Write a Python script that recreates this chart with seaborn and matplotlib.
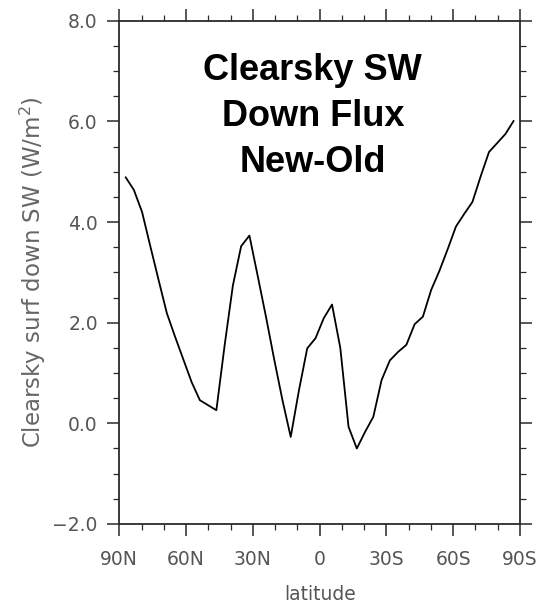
import matplotlib
matplotlib.use("Agg")
import matplotlib.pyplot as plt
import seaborn as sns
import pandas as pd
from matplotlib.ticker import MultipleLocator, FuncFormatter

# Gaussian-grid latitudes (deg, north positive) and the zonal-mean difference
lats = [87.16, 83.48, 79.78, 76.07, 72.36, 68.65, 64.94, 61.23, 57.52, 53.81,
        50.10, 46.39, 42.68, 38.97, 35.26, 31.54, 27.83, 24.12, 20.41, 16.70,
        12.99, 9.28, 5.57, 1.86, -1.86, -5.57, -9.28, -12.99, -16.70, -20.41,
        -24.12, -27.83, -31.54, -35.26, -38.97, -42.68, -46.39, -50.10, -53.81,
        -57.52, -61.23, -64.94, -68.65, -72.36, -76.07, -79.78, -83.48, -87.16]
flux_diff = [4.89, 4.64, 4.20, 3.52, 2.85, 2.19, 1.72, 1.27, 0.82, 0.46, 0.36, 0.26,
             1.55, 2.74, 3.52, 3.73, 2.93, 2.12, 1.27, 0.46, -0.27, 0.66, 1.49, 1.69,
             2.09, 2.36, 1.50, -0.07, -0.50, -0.17, 0.13, 0.86, 1.25, 1.42, 1.56, 1.97,
             2.12, 2.65, 3.03, 3.46, 3.91, 4.16, 4.40, 4.91, 5.39, 5.57, 5.75, 6.01]

xtick_pos = [90, 60, 30, 0, -30, -60, -90]
xtick_labels = ["90N", "60N", "30N", "0", "30S", "60S", "90S"]

title = "Clearsky SW\nDown Flux\nNew-Old"
ylabel = "Clearsky surf down SW (W/m$^2$)"
xlabel = "latitude"

sns.set_style("ticks")
plt.rcParams["font.family"] = ["DejaVu Sans"]

df = pd.DataFrame({"lat": lats, "flux": flux_diff})

fig = plt.figure(figsize=(5.43, 6.09), dpi=100)
ax = fig.add_axes([0.2197, 0.1396, 0.7379, 0.8264])

sns.lineplot(data=df, x="lat", y="flux", ax=ax, color="black", lw=1.3, sort=False)

ax.set_xlim(90, -90)
ax.set_ylim(-2, 8)
ax.set_xticks(xtick_pos)
ax.set_xticklabels(xtick_labels)
ax.xaxis.set_minor_locator(MultipleLocator(10))
ax.yaxis.set_major_locator(MultipleLocator(2))
ax.yaxis.set_minor_locator(MultipleLocator(0.5))
ax.yaxis.set_major_formatter(FuncFormatter(lambda v, p: f"{v:.1f}".replace("-", "\u2212")))

axis_col = "#2a2a2a"
label_col = "#555555"
for s in ax.spines.values():
    s.set_color(axis_col)
    s.set_linewidth(1.3)
    s.set_visible(True)

ax.tick_params(which="both", direction="out", top=True, right=True,
               labeltop=False, labelright=False, color=axis_col)
ax.tick_params(which="major", length=8.5, width=1.1, labelsize=13.5,
               labelcolor=label_col)
ax.tick_params(axis="x", which="major", pad=10)
ax.tick_params(axis="y", which="major", pad=7)
ax.tick_params(which="minor", length=4, width=0.9)

ax.set_ylabel(ylabel, fontsize=16.5, color="#666666")
ax.yaxis.set_label_coords(-0.215, 0.5)
ax.yaxis.label.set_verticalalignment("center")
ax.set_xlabel(xlabel, fontsize=13.5, color=label_col)
ax.xaxis.set_label_coords(0.5, -0.141)
ax.xaxis.label.set_verticalalignment("center")

ax.text(0.483, 0.935, title, transform=ax.transAxes, ha="center", va="top",
        fontsize=26, fontweight="bold", family=["Liberation Sans", "DejaVu Sans"],
        linespacing=1.4, color="black")

fig.savefig("out.png", dpi=100)
